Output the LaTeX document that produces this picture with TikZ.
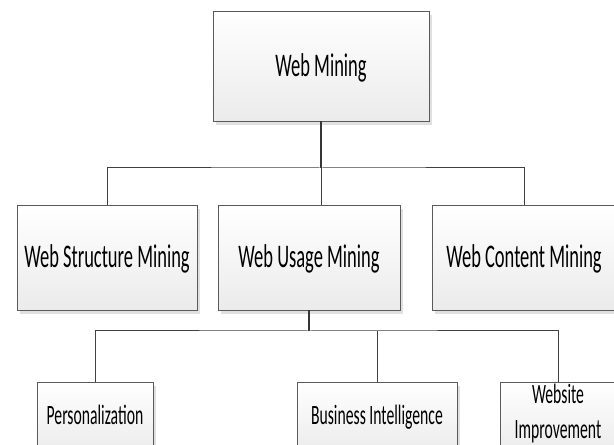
\documentclass[tikz,border=0pt]{standalone}
\usepackage{fontspec}
\setmainfont[FakeStretch=0.56]{Carlito}
\usetikzlibrary{shadows}
\definecolor{edgec}{HTML}{5A5A5A}
\definecolor{wirec}{HTML}{404040}
\definecolor{boxbot}{HTML}{EBEBEB}
\definecolor{shad}{HTML}{E0E0E0}
\begin{document}
\begin{tikzpicture}[x=1pt,y=1pt,
  box/.style={draw=edgec, line width=0.9pt, top color=white, bottom color=boxbot,
    inner sep=0pt, outer sep=0pt,
    drop shadow={shadow xshift=3pt, shadow yshift=-4pt, fill=shad, opacity=1}},
  big/.style={box, font=\fontsize{33}{40}\selectfont, text height=25pt, text depth=4pt},
  small/.style={box, font=\fontsize{28}{35}\selectfont, text height=20pt, text depth=6pt, minimum height=72pt},
  wire/.style={draw=wirec, line width=1pt},
  stem/.style={draw=wirec!85!black, line width=1.4pt}]
\clip (0,0) rectangle (614,445);
\fill[white] (0,0) rectangle (614,445);
% top
\node[big, minimum width=216pt, minimum height=110pt] (top) at (321,379) {Web Mining};
% middle
\node[big, minimum width=180pt, minimum height=105pt] (struct) at (107,187.5) {Web Structure Mining};
\node[big, minimum width=182pt, minimum height=105pt] (usage) at (309,187.5) {Web Usage Mining};
\node[big, minimum width=184pt, minimum height=105pt] (content) at (524,187.5) {Web Content Mining};
% bottom
\node[small, minimum width=116pt] (pers) at (95,27) {Personalization};
\node[small, minimum width=160pt] (bi) at (377,27) {Business Intelligence};
\node[small, minimum width=116pt] (web) at (558,27) {};
\node[font=\fontsize{28}{35}\selectfont, align=center, inner sep=0pt] (webtext) at (558,31.2) {Website\\Improvement};
% connectors
\coordinate (b1) at (321,277);
\coordinate (b2) at (309,114);
\draw[stem] (top.south) -- (b1);
\draw[wire] (b1) -- (top.south |- usage.north);
\draw[wire] (struct.north) |- (b1) -| (content.north);
\draw[stem] (usage.south) -- (b2);
\draw[wire] (pers.north) |- (b2) -| (web.north);
\draw[wire] (bi.north) -- (bi.north |- b2);
\end{tikzpicture}
\end{document}
